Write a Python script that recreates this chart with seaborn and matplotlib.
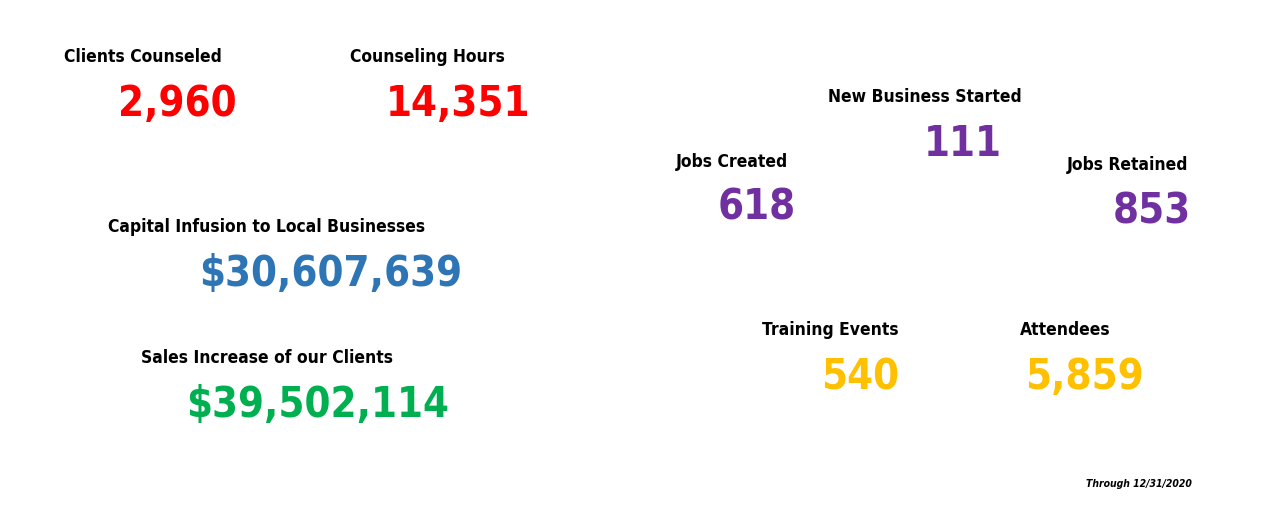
import matplotlib.pyplot as plt
import seaborn as sns
from matplotlib import font_manager

sns.set_theme(style="white")

# font: prefer a condensed bold face
names = {f.name for f in font_manager.fontManager.ttflist}
if "Liberation Sans Narrow" in names:
    fam = ["Liberation Sans Narrow", "DejaVu Sans"]
    stretch = "normal"
else:
    fam = ["DejaVu Sans"]
    stretch = "condensed"
plt.rcParams["font.family"] = fam

labels = ["Clients Counseled", "Counseling Hours", "Capital Infusion to Local Businesses",
          "Sales Increase of our Clients", "New Business Started", "Jobs Created",
          "Jobs Retained", "Training Events", "Attendees"]
values = ["2,960", "14,351", "$30,607,639", "$39,502,114", "111", "618", "853", "540", "5,859"]
colors = ["#FF0000", "#FF0000", "#2E75B6", "#00B050", "#7030A0", "#7030A0",
          "#7030A0", "#FFC000", "#FFC000"]
footnote = "Through 12/31/2020"

# layout (pixel centres): label x, label y, value x, value y
label_pos = [(143, 57), (427, 57), (267, 227), (267, 358), (925, 97),
             (732, 162), (1128, 165), (830, 330), (1065, 330)]
value_pos = [(177, 104), (458, 104), (331, 274), (318, 405), (963, 144),
             (757, 208), (1152, 211), (860, 377), (1084, 377)]

fig = plt.figure(figsize=(12.8, 5.24), dpi=100)
ax = fig.add_axes([0, 0, 1, 1])
ax.set_xlim(0, 1280)
ax.set_ylim(524, 0)
ax.axis("off")

for lab, val, col, (lx, ly), (vx, vy) in zip(labels, values, colors, label_pos, value_pos):
    ax.text(lx, ly, lab, ha="center", va="center", fontsize=12.5, fontweight="bold",
            fontstretch=stretch, color="black")
    ax.text(vx, vy, val, ha="center", va="center", fontsize=30, fontweight="bold",
            fontstretch=stretch, color=col)

ax.text(1139, 484, footnote, ha="center", va="center", fontsize=7.5, fontweight="bold",
        fontstyle="italic", fontstretch=stretch, color="black")

fig.savefig("out.png", dpi=100, facecolor="white")
